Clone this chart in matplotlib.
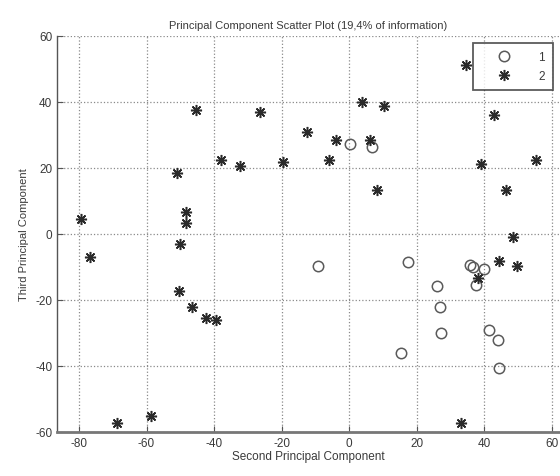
import matplotlib
matplotlib.use('Agg')
import matplotlib.pyplot as plt

plt.rcParams['font.family'] = ['Liberation Sans', 'DejaVu Sans']
plt.rcParams['axes.unicode_minus'] = False

# group 1 (open circles)
g1_x = [0.2, 6.6, -9.2, 17.5, 35.9, 36.7, 40.0, 37.4, 25.9, 27.0, 27.2, 41.4, 43.9, 15.3, 44.3]
g1_y = [27.2, 26.3, -9.6, -8.4, -9.4, -10.1, -10.6, -15.5, -15.8, -22.0, -30.1, -29.0, -32.1, -36.1, -40.7]

# group 2 (asterisks)
g2_x = [-45.5, -26.4, -12.4, -37.9, -32.3, -19.7, -50.9, -48.4, -48.4, -79.3, -50.1,
        34.7, 3.8, 10.3, 42.8, -4.0, 6.3, -5.9, 8.1, 38.9, 55.2, 46.4, 48.5,
        -76.7, -50.3, -46.5, -42.5, -39.4, -68.8, -58.8,
        44.3, 49.7, 38.2, 33.0]
g2_y = [37.7, 36.9, 30.8, 22.5, 20.7, 21.7, 18.4, 6.8, 3.2, 4.5, -3.0,
        51.2, 40.1, 38.9, 36.1, 28.5, 28.5, 22.4, 13.3, 21.3, 22.4, 13.4, -0.8,
        -7.1, -17.2, -22.0, -25.5, -26.0, -57.3, -55.1,
        -8.3, -9.6, -13.4, -57.4]

x_ticks = [-80, -60, -40, -20, 0, 20, 40, 60]
y_ticks = [-60, -40, -20, 0, 20, 40, 60]

txt = '#3a3a3a'

fig = plt.figure(figsize=(5.6, 4.77), dpi=100)
ax = fig.add_axes([57 / 560, 44 / 477, 503 / 560, 396 / 477])

ax.plot(g1_x, g1_y, linestyle='none', marker='o', markersize=7.5,
        markerfacecolor='none', markeredgecolor='#5a5a5a', markeredgewidth=1.1, label='1')
ax.plot(g2_x, g2_y, linestyle='none', marker=(8, 2, 0), markersize=8,
        markeredgecolor='#2a2a2a', markeredgewidth=1.1, color='#2a2a2a', label='2')

ax.set_xlim(-86.5, 62.4)
ax.set_ylim(-60, 60)
ax.set_xticks(x_ticks)
ax.set_yticks(y_ticks)
ax.grid(True, linestyle=':', color='#8a8a8a', linewidth=0.9)

ax.spines['top'].set_visible(False)
ax.spines['right'].set_visible(False)
ax.spines['left'].set_color('#555555')
ax.spines['left'].set_linewidth(1.0)
ax.spines['bottom'].set_color('#777777')
ax.spines['bottom'].set_linewidth(2.0)
ax.tick_params(direction='in', length=4, colors='#555555', labelcolor=txt, labelsize=8.5)

ax.set_title('Principal Component Scatter Plot (19,4% of information)', fontsize=8, color=txt, pad=6)
ax.set_xlabel('Second Principal Component', fontsize=8.5, color=txt, labelpad=1)
ax.set_ylabel('Third Principal Component', fontsize=8, color=txt, labelpad=4)

# legend box sits 7 px inside the top-right corner
leg = ax.legend(loc='upper right', bbox_to_anchor=(496 / 503, 1 - 7 / 396),
                fontsize=8.5, frameon=True, fancybox=False, borderpad=0.7,
                handlelength=3.8, handletextpad=1.0, labelspacing=0.55, borderaxespad=0)
leg.get_frame().set_edgecolor('#333333')
leg.get_frame().set_linewidth(1.3)
for t in leg.get_texts():
    t.set_color(txt)

fig.savefig('out.png', dpi=100)
